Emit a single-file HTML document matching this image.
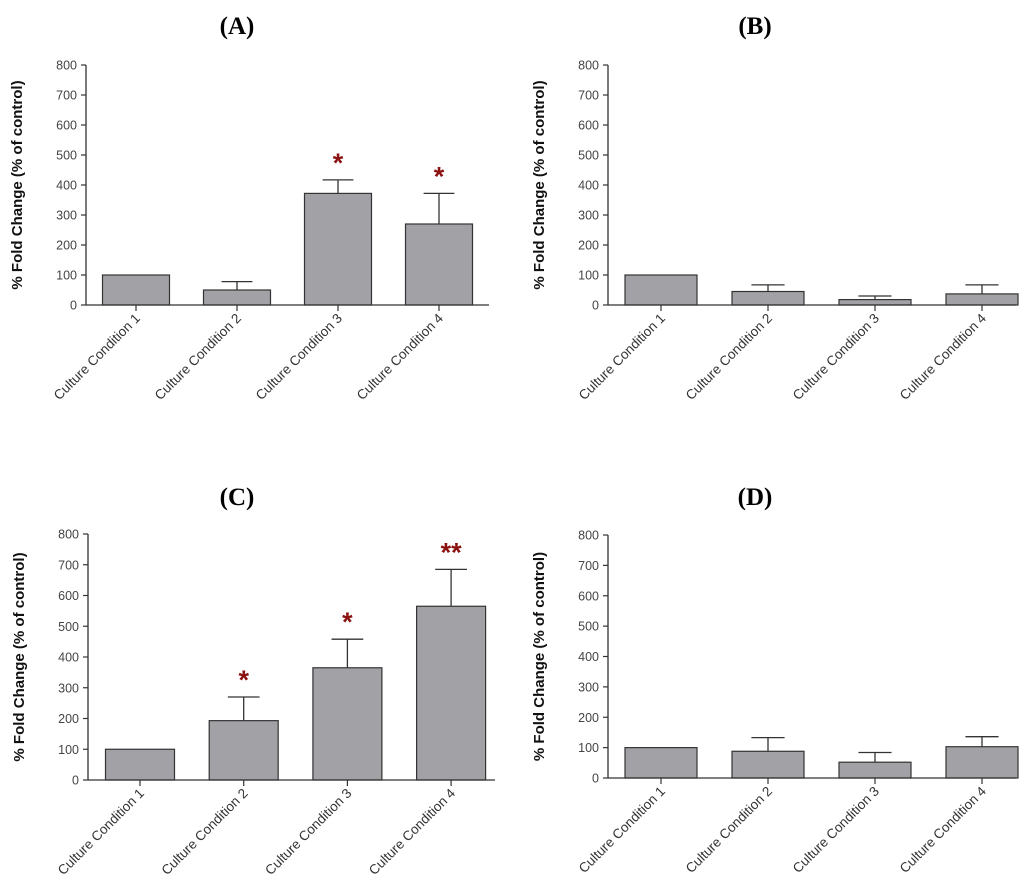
<!DOCTYPE html>
<html><head><meta charset="utf-8"><style>
html,body{margin:0;padding:0;background:#fff;}
svg{display:block;}
</style></head><body>
<svg id="fig" width="1024" height="887" viewBox="0 0 1024 887" xmlns="http://www.w3.org/2000/svg"></svg>
<script>
const categories = ["Culture Condition 1","Culture Condition 2","Culture Condition 3","Culture Condition 4"];
const tickValues = [0,100,200,300,400,500,600,700,800];
const valuesA = [100, 50, 372, 270];
const errorsA = [0, 28, 45, 102];
const starsA = ["", "", "*", "*"];
const valuesB = [100, 45, 18, 37];
const errorsB = [0, 22, 12, 30];
const starsB = ["", "", "", ""];
const valuesC = [100, 193, 365, 565];
const errorsC = [0, 77, 93, 120];
const starsC = ["", "*", "*", "**"];
const valuesD = [100, 88, 52, 103];
const errorsD = [0, 45, 32, 33];
const starsD = ["", "", "", ""];

const NS = "http://www.w3.org/2000/svg";
const svg = document.getElementById('fig');
function mk(tag, attrs, parent){
  const e = document.createElementNS(NS, tag);
  for (const k in attrs) e.setAttribute(k, attrs[k]);
  (parent||svg).appendChild(e);
  return e;
}
function panel(id, title, titleX, titleY, ax, y0, y800, xEnd, firstC, step, bw, vals, errs, stars){
  const g = mk('g', {});
  
  
  const yS = v => y0 + (y800 - y0) * v / 800;
  const t = mk('text', {x:titleX, y:titleY, 'text-anchor':'middle', 'font-family':'Liberation Serif, serif', 'font-weight':'bold', 'font-size':'25', fill:'#000'}, g);
  t.textContent = title;
  
  
  const yl = mk('line', {x1:ax, y1:y800, x2:ax, y2:y0, stroke:'#333', 'stroke-width':1.3}, g);
  
  
  tickValues.forEach(v => {
    const y = yS(v);
    mk('line', {x1:ax-5, y1:y, x2:ax, y2:y, stroke:'#333', 'stroke-width':1.2}, g);
    const tl = mk('text', {x:ax-9, y:y+4.5, 'text-anchor':'end', 'font-family':'Liberation Sans, sans-serif', 'font-size':'12.5', fill:'#444'}, g);
    tl.textContent = v;
    
    
  });
  const yt = mk('text', {x:0, y:0, transform:`translate(${ax-64},${(y0+y800)/2}) rotate(-90)`, 'text-anchor':'middle', 'font-family':'Liberation Sans, sans-serif', 'font-weight':'bold', 'font-size':'15', fill:'#111'}, g);
  yt.textContent = "% Fold Change (% of control)";
  
  
  vals.forEach((v, i) => {
    const cx = firstC + step * i;
    const yt2 = yS(v);
    if (errs[i] > 0) {
      const ye = yS(v + errs[i]);
      mk('line', {x1:cx, y1:ye, x2:cx, y2:yt2, stroke:'#333', 'stroke-width':1.3}, g);
      mk('line', {x1:cx-bw*0.23, y1:ye, x2:cx+bw*0.23, y2:ye, stroke:'#333', 'stroke-width':1.3}, g);
    }
    const r = mk('rect', {x:cx-bw/2, y:yt2, width:bw, height:y0-yt2, fill:'#a2a2a6', stroke:'#333', 'stroke-width':1.2}, g);
    
    
    if (stars[i]) {
      const s = mk('text', {x:cx, y:yS(v + errs[i]) - 8, 'text-anchor':'middle', 'font-family':'Liberation Sans, sans-serif', 'font-weight':'bold', 'font-size':'27', fill:'#8b1010'}, g);
      s.textContent = stars[i];
      
      
    }
    mk('line', {x1:cx, y1:y0, x2:cx, y2:y0+6, stroke:'#333', 'stroke-width':1.2}, g);
    const xl = mk('text', {x:0, y:0, transform:`translate(${cx+5},${y0+14}) rotate(-45)`, 'text-anchor':'end', 'font-family':'Liberation Sans, sans-serif', 'font-size':'13.5', fill:'#333'}, g);
    xl.textContent = categories[i];
    
    
  });
  const xa = mk('line', {x1:ax, y1:y0, x2:xEnd, y2:y0, stroke:'#333', 'stroke-width':1.3}, g);
  
  
}
panel('a', '(A)', 237, 34, 86, 305, 65, 489, 136, 101, 67, valuesA, errorsA, starsA);
panel('b', '(B)', 755, 34, 608, 305, 65, 1016, 661, 107, 72, valuesB, errorsB, starsB);
panel('c', '(C)', 237, 505, 88, 780, 534, 495, 140, 103.7, 69, valuesC, errorsC, starsC);
panel('d', '(D)', 755, 505, 608, 778, 535, 1016, 661, 107, 72, valuesD, errorsD, starsD);
</script>
</body></html>
